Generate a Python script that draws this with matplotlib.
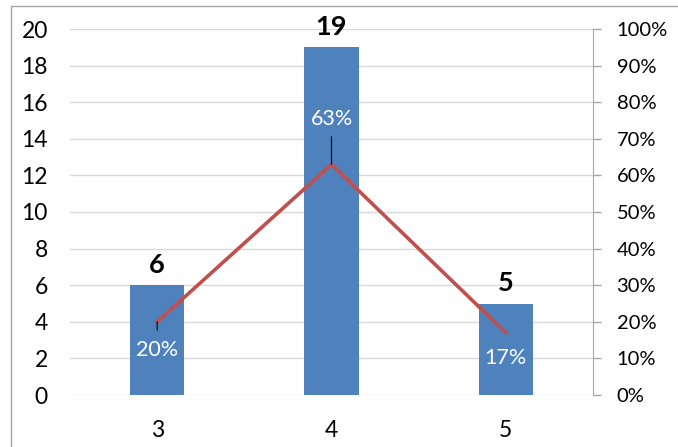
import matplotlib
matplotlib.use("Agg")
import matplotlib.pyplot as plt
from matplotlib.patches import Rectangle
from matplotlib.ticker import FuncFormatter

plt.rcParams['font.family'] = ['Lato', 'DejaVu Sans']

categories = ["3", "4", "5"]
counts = [6, 19, 5]
share_pct = [20, 63, 17]

bar_color = "#4F81BD"
line_color = "#C0504D"
grid_color = "#D9D9D9"

fig = plt.figure(figsize=(6.78, 4.47), dpi=100)
ax = fig.add_axes([70 / 678, 52 / 447, 523 / 678, 366 / 447])
ax2 = ax.twinx()

x = list(range(len(categories)))
ax.bar(x, counts, width=0.31, color=bar_color, zorder=2)
ax.set_xlim(-0.5, len(categories) - 0.5)
ax.set_ylim(0, 20)
ax.set_yticks(range(0, 21, 2))
ax.set_xticks(x)
ax.set_xticklabels(categories)
ax.yaxis.grid(True, color=grid_color, linewidth=1)
ax.set_axisbelow(True)
for s in ax.spines.values():
    s.set_visible(False)
ax.tick_params(axis='y', length=0, pad=16, labelsize=16.5)
ax.tick_params(axis='x', length=0, pad=18, labelsize=16.5)

# count labels above each bar
for xi, c in zip(x, counts):
    ax.annotate(str(c), (xi, c), xytext=(0, 6), textcoords='offset points',
                ha='center', va='bottom', fontsize=19.5, fontweight='bold', color='black')

# share line on the secondary axis
ax2.plot(x, [p / 100 for p in share_pct], color=line_color, linewidth=2.6, zorder=3)
ax2.set_ylim(0, 1)
ax2.set_yticks([i / 10 for i in range(11)])
ax2.yaxis.set_major_formatter(FuncFormatter(lambda v, _: f"{v * 100:.0f}%"))
for name, s in ax2.spines.items():
    s.set_visible(name == 'right')
ax2.spines['right'].set_color('#A6A6A6')
ax2.tick_params(axis='y', length=6, width=1, color='#A6A6A6', pad=11, labelsize=14.5)

# share labels with short leader lines
label_offsets = [(0, -20), (0, 33), (0, -18)]
leaders = [(0, -6), (0, 20), (0, 0)]
for xi, p, off, ld in zip(x, share_pct, label_offsets, leaders):
    y = p / 100
    if ld[1] != 0:
        ax2.annotate("", (xi, y), xytext=ld, textcoords='offset points',
                     arrowprops=dict(arrowstyle='-', color='black', lw=0.8,
                                     shrinkA=0, shrinkB=0))
    ax2.annotate(f"{p}%", (xi, y), xytext=off, textcoords='offset points',
                 ha='center', va='center', fontsize=15.5, color='white')

# outer chart frame
fig.patches.append(Rectangle((11 / 678, -0.05), 1.1, (447 - 6) / 447 + 0.05,
                             transform=fig.transFigure, fill=False,
                             edgecolor='#A6A6A6', linewidth=1))

fig.savefig("out.png", dpi=100)
